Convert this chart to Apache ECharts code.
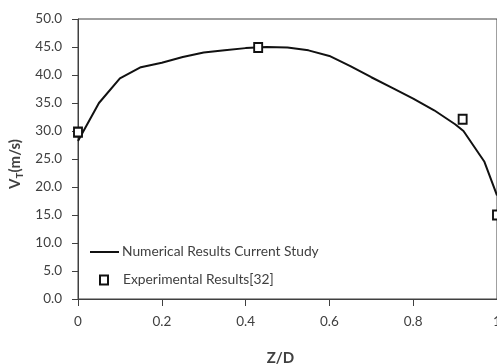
<!DOCTYPE html>
<html><head><meta charset="utf-8">
<script src="https://cdn.jsdelivr.net/npm/echarts@6/dist/echarts.min.js"></script>
<style>html,body{margin:0;padding:0;background:#fff}#c{width:497px;height:364px}</style>
</head><body><div id="c"></div>
<script>
// Numerical results (line)
const numZ = [0, 0.05, 0.1, 0.15, 0.2, 0.25, 0.3, 0.35, 0.4, 0.45, 0.5, 0.55, 0.6, 0.65, 0.7, 0.75, 0.8, 0.85, 0.9, 0.92, 0.97, 1.0];
const numV = [28.2, 35.0, 39.4, 41.4, 42.2, 43.2, 44.0, 44.4, 44.8, 45.0, 44.9, 44.4, 43.4, 41.6, 39.6, 37.7, 35.8, 33.7, 31.2, 30.0, 24.5, 18.5];
// Experimental results (markers)
const expZ = [0, 0.43, 0.918, 1.0];
const expV = [29.8, 44.9, 32.1, 15.0];
const xTicks = [0, 0.2, 0.4, 0.6, 0.8, 1];
const yTicks = [0, 5, 10, 15, 20, 25, 30, 35, 40, 45, 50];
const seriesNames = ['Numerical Results Current Study', 'Experimental Results[32]'];

const FONT = 'Lato';
const TXT = '#404040';
const chart = echarts.init(document.getElementById('c'), null, {renderer: 'canvas'});
chart.setOption({
  animation: false,
  backgroundColor: '#fff',
  textStyle: {fontFamily: FONT},
  grid: {left: 78, right: 0, top: 19, bottom: 65, show: true, borderColor: '#404040', borderWidth: 1,
         containLabel: false, outerBoundsMode: 'none'},
  legend: [
    {data: [{name: seriesNames[0], icon: 'rect'}], left: 90, top: 245, itemWidth: 29, itemHeight: 2, padding: 0,
     itemStyle: {color: '#111'},
     textStyle: {fontFamily: FONT, fontSize: 13.8, color: TXT, padding: [0, 0, 0, -2]}},
    {data: [seriesNames[1]], left: 99, top: 273, itemWidth: 8, itemHeight: 9, padding: 0,
     textStyle: {fontFamily: FONT, fontSize: 13.8, color: TXT, padding: [0, 0, 0, 10]}}
  ],
  xAxis: {
    type: 'value', min: xTicks[0], max: xTicks[xTicks.length - 1], interval: 0.2,
    name: 'Z/D', nameLocation: 'middle', nameGap: 52,
    nameTextStyle: {fontFamily: FONT, fontSize: 15, fontWeight: 'bold', color: TXT, padding: [0, 14, 0, 0]},
    axisLine: {lineStyle: {color: '#404040', width: 1}},
    axisTick: {show: true, length: 7, lineStyle: {color: '#404040'}},
    splitLine: {show: false},
    axisLabel: {fontFamily: FONT, fontSize: 13.5, color: TXT, margin: 16,
      formatter: v => String(Math.round(v * 10) / 10)}
  },
  yAxis: {
    type: 'value', min: yTicks[0], max: yTicks[yTicks.length - 1], interval: 5,
    name: '{a|V}{b|T}{a|(m/s)}', nameLocation: 'middle', nameGap: 52, nameRotate: 90,
    nameTextStyle: {
      fontWeight: 'bold', fontSize: 15, color: TXT, padding: [0, 10, 0, 0],
      rich: {
        a: {fontFamily: FONT, fontSize: 15, fontWeight: 'bold', color: TXT, lineHeight: 18},
        b: {fontFamily: FONT, fontSize: 10, fontWeight: 'bold', color: TXT, lineHeight: 18, verticalAlign: 'bottom', padding: [7, 0, 0, 0]}
      }
    },
    axisLine: {show: true, lineStyle: {color: '#404040', width: 1}},
    axisTick: {show: true, length: 6, lineStyle: {color: '#404040'}},
    splitLine: {show: false},
    axisLabel: {fontFamily: FONT, fontSize: 13.5, color: TXT, margin: 16, formatter: v => v.toFixed(1)}
  },
  series: [
    {name: seriesNames[0], type: 'line', data: numZ.map((z, i) => [z, numV[i]]),
     symbol: 'none', lineStyle: {color: '#111', width: 2}, itemStyle: {color: '#111'}, z: 2},
    {name: seriesNames[1], type: 'scatter', data: expZ.map((z, i) => [z, expV[i]]),
     symbol: 'rect', symbolSize: [8, 9],
     itemStyle: {color: '#fff', borderColor: '#111', borderWidth: 2, opacity: 1}, z: 3}
  ]
});
</script>
</body></html>
